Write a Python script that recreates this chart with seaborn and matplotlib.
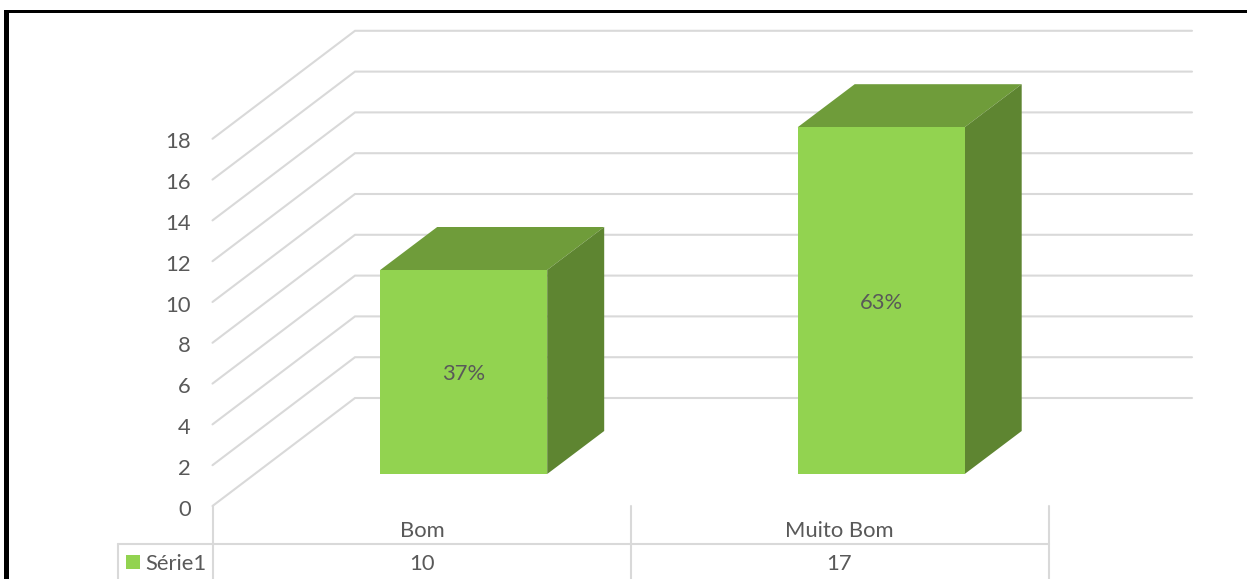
import matplotlib
matplotlib.use('Agg')
import matplotlib.pyplot as plt
from matplotlib.patches import Polygon, Rectangle
import pandas as pd
import seaborn as sns

categories = ['Bom', 'Muito Bom']
values = [10, 17]
percent_labels = ['37%', '63%']
y_ticks = [0, 2, 4, 6, 8, 10, 12, 14, 16, 18]
series_name = 'Série1'

sns.set_theme(style='white')
plt.rcParams['font.family'] = ['Lato', 'DejaVu Sans']

TEXT = '#595959'
GRID = '#d9d9d9'
FRONT = '#92d350'
TOP = '#6f9c3a'
SIDE = '#5e8531'
FS = 15.8


# layout helpers, picture pixels to data units
def px(x):
    return (x - 463.7) / 417.5


def py(y):
    return (474 - y) / 20.4


df = pd.DataFrame({'cat': categories, 'val': values})

fig = plt.figure(figsize=(12.47, 5.79), dpi=100, facecolor='white')
ax = fig.add_axes([0, 0, 1, 1])
sns.barplot(data=df, x='cat', y='val', color=FRONT, saturation=1, width=0.4, ax=ax, zorder=3,
            edgecolor='none', linewidth=0)
ax.set_xlim(px(0), px(1247))
ax.set_ylim(py(579), py(0))
ax.axis('off')

# walls
wall = py(398)
floor = py(506)
for v in y_ticks:
    ax.plot([px(212.5), px(355), px(1192)], [v + floor, v + wall, v + wall],
            color=GRID, lw=1.5, zorder=1, solid_joinstyle='miter')
    ax.text(px(191), v + py(509.5), str(v), ha='right', va='center', fontsize=FS, color=TEXT)

# 3d faces of the bars
dx = 57 / 417.5
dy = 43 / 20.4
for bar, lab in zip(ax.patches, percent_labels):
    x0 = bar.get_x()
    x1 = x0 + bar.get_width()
    h = bar.get_height()
    ax.add_patch(Polygon([(x0, h), (x1, h), (x1 + dx, h + dy), (x0 + dx, h + dy)], fc=TOP, ec='none', zorder=2))
    ax.add_patch(Polygon([(x1, 0), (x1 + dx, dy), (x1 + dx, h + dy), (x1, h)], fc=SIDE, ec='none', zorder=2))
    ax.text((x0 + x1) / 2, h / 2 + py(476.5), lab, ha='center', va='center', fontsize=FS, color=TEXT, zorder=4)

# data table under the chart
table_kw = dict(color=GRID, lw=1.5, zorder=1)
ax.plot([px(118), px(1048.5)], [py(544), py(544)], **table_kw)
ax.plot([px(118), px(118)], [py(544), py(579)], **table_kw)
for x, top in [(213, 506), (631, 506), (1048.5, 506)]:
    ax.plot([px(x), px(x)], [py(top), py(579)], **table_kw)
for i, (cat, val) in enumerate(zip(categories, values)):
    xc = i + px(422)
    ax.text(xc, py(531), cat, ha='center', va='center', fontsize=FS, color=TEXT)
    ax.text(xc, py(564), str(val), ha='center', va='center', fontsize=FS, color=TEXT)
ax.add_patch(Rectangle((px(126), py(569)), 14 / 417.5, 14 / 20.4, fc=FRONT, ec='none'))
ax.text(px(145), py(564), series_name, ha='left', va='center', fontsize=FS, color=TEXT)

# black frame of the pasted picture
ax.add_patch(Rectangle((px(4.5), py(579)), 4.5 / 417.5, 569 / 20.4, fc='black', ec='none', zorder=5))
ax.add_patch(Rectangle((px(4.5), py(13)), 1243 / 417.5, 3 / 20.4, fc='black', ec='none', zorder=5))

fig.savefig('out.png', dpi=100)
